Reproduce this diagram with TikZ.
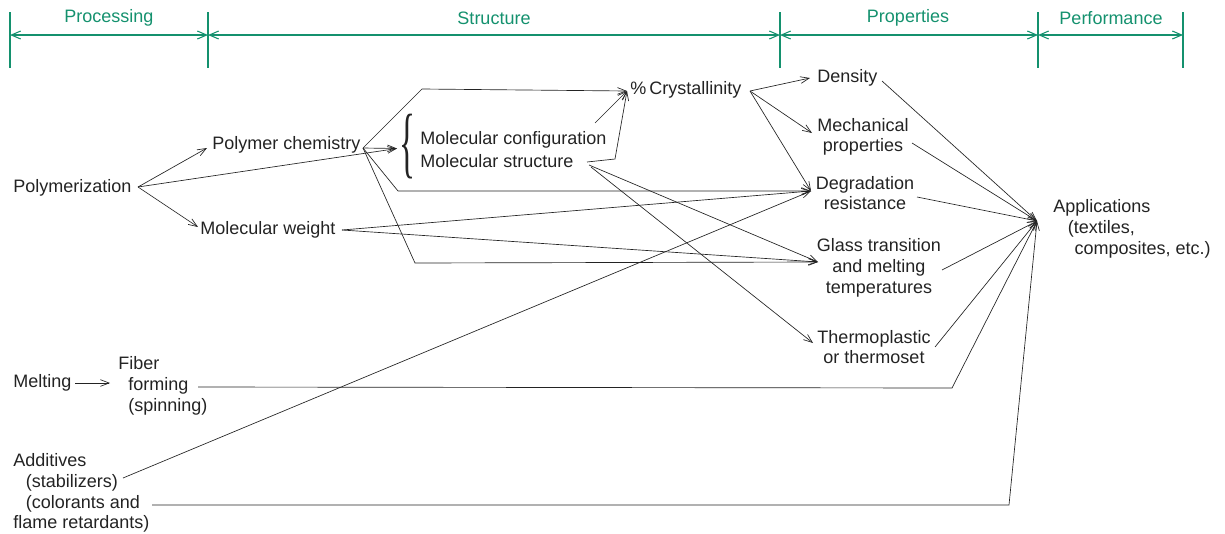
\documentclass[tikz,border=0pt]{standalone}
\usepackage{fontspec}
\usepackage{graphicx}
\setmainfont{Liberation Sans}
\newfontfamily\bracefont{Liberation Serif}
\usetikzlibrary{arrows.meta}
\definecolor{hdr}{RGB}{20,145,110}
\definecolor{ink}{RGB}{35,35,35}
\begin{document}
\begin{tikzpicture}[x=0.75pt,y=-0.75pt,
  lbl/.style={inner sep=0pt, font=\fontsize{13.5}{15.5}\selectfont, text=ink},
  hd/.style={inner sep=0pt, font=\fontsize{13.5}{15.5}\selectfont, text=hdr},
  sep/.style={draw=hdr, line width=0.8pt},
  span/.style={draw=hdr, line width=0.8pt, {Straight Barb[length=7pt,width=6pt]}-{Straight Barb[length=7pt,width=6pt]}},
  conn/.style={draw=ink, line width=0.5pt},
  arr/.style={conn, -{Straight Barb[length=6.5pt,width=5pt]}}]
\useasboundingbox (0,0) rectangle (1225,533);

% ---------- header ----------
\foreach \x/\n in {10/a,208/b,780/c,1038/d,1183/e}{
  \coordinate (t\n) at (\x,12);
  \coordinate (b\n) at (\x,68);
  \coordinate (m\n) at (\x,35);
  \draw[sep] (t\n) -- (b\n);
}
\draw[span] (ma) -- (mb);
\draw[span] (mb) -- (mc);
\draw[span] (mc) -- (md);
\draw[span] (md) -- (me);
\node[hd] (hproc) at (109,18) {Processing};
\node[hd] (hstruc) at (494,18) {Structure};
\node[hd] (hprop) at (908,18) {Properties};
\node[hd] (hperf) at (1111,18) {Performance};

% ---------- nodes ----------
\node[lbl, anchor=west] (poly) at (13,188) {Polymerization};
\node[lbl, anchor=west] (chem) at (212,145) {Polymer chemistry};
\node[lbl, anchor=west] (mw) at (200,230) {Molecular weight};
\node[inner sep=0pt, text=ink] (brace) at (407,146.5) {\scalebox{1}[2.35]{\bracefont\fontsize{25}{25}\selectfont\{}};
\node[lbl, anchor=west] (mconf) at (420,140) {Molecular configuration};
\node[lbl, anchor=west] (mstruc) at (420,161) {Molecular structure};
\node[lbl, anchor=west] (cryst) at (630,90) {\%\,Crystallinity};
\node[lbl, anchor=west] (dens) at (817,78) {Density};
\node[lbl, align=center] (mech) at (863,137) {Mechanical\\properties};
\node[lbl, align=center] (degr) at (865,193) {Degradation\\resistance};
\node[lbl, align=center] (glass) at (879,268) {Glass transition\\and melting\\temperatures};
\node[lbl, align=center] (thermo) at (874,347) {Thermoplastic\\or thermoset};
\node[lbl, align=left, anchor=west] (app) at (1053,229) {Applications\\\hspace*{11pt}(textiles,\\\hspace*{16pt}composites, etc.)};
\node[lbl, anchor=west] (melt) at (13,383) {Melting};
\node[lbl, align=left, anchor=west] (fiber) at (118,386) {Fiber\\\hspace*{7.5pt}forming\\\hspace*{7.5pt}(spinning)};
\node[lbl, align=left, anchor=west] (add) at (13,493) {Additives\\\hspace*{9.5pt}(stabilizers)\\\hspace*{9.5pt}(colorants and\\flame retardants)};

% ---------- connection points ----------
\coordinate (polyR) at (138,187);
\coordinate (chemL) at (207,148);
\coordinate (chemR) at (363,148);
\coordinate (mwL) at (198,227);
\coordinate (mwR) at (342,230);
\coordinate (braceL) at (397,148.5);
\coordinate (crystL) at (627,91);
\coordinate (crystR) at (750,91);
\coordinate (mconfR) at (595,123);
\coordinate (mstrucR) at (587,162);
\coordinate (mstrucK) at (615,159);
\coordinate (mstrucR2) at (589,165);
\coordinate (mstrucR3) at (591,167);
\coordinate (densL) at (810,78);
\coordinate (densR) at (882,81);
\coordinate (mechL) at (812,133);
\coordinate (mechR) at (912,143);
\coordinate (degrL) at (811,191);
\coordinate (degrR) at (917,197);
\coordinate (glassL) at (818,262);
\coordinate (glassR) at (942,270);
\coordinate (thermoL) at (813,343);
\coordinate (thermoR) at (935,347);
\coordinate (appL) at (1037,221);
\coordinate (meltR) at (75,383);
\coordinate (fiberL) at (110,383);
\coordinate (fiberR) at (198,387);
\coordinate (fiberK) at (952,388);
\coordinate (addR) at (123,478);
\coordinate (addR2) at (152,505);
\coordinate (addK) at (1009,505);
\coordinate (k1) at (422,89);
\coordinate (k2) at (398,191);
\coordinate (k3) at (415,263);

% ---------- connectors ----------
\draw[arr] (polyR) -- (chemL);
\draw[arr] (polyR) -- (mwL);
\draw[arr] (polyR) -- (braceL);
\draw[arr] (chemR) -- (braceL);
\draw[arr] (chemR) -- (k1) -- (crystL);
\draw[arr] (chemR) -- (k2) -- (degrL);
\draw[arr] (chemR) -- (k3) -- (glassL);
\draw[arr] (mconfR) -- (crystL);
\draw[arr] (mstrucR) -- (mstrucK) -- (crystL);
\draw[arr] (mstrucR2) -- (glassL);
\draw[arr] (mstrucR3) -- (thermoL);
\draw[arr] (mwR) -- (degrL);
\draw[arr] (mwR) -- (glassL);
\draw[arr] (crystR) -- (densL);
\draw[arr] (crystR) -- (mechL);
\draw[arr] (crystR) -- (degrL);
\draw[arr] (addR) -- (degrL);
\draw[arr] (meltR) -- (fiberL);
\draw[arr] (densR) -- (appL);
\draw[arr] (mechR) -- (appL);
\draw[arr] (degrR) -- (appL);
\draw[arr] (glassR) -- (appL);
\draw[arr] (thermoR) -- (appL);
\draw[arr] (fiberR) -- (fiberK) -- (appL);
\draw[arr] (addR2) -- (addK) -- (appL);
\end{tikzpicture}
\end{document}
